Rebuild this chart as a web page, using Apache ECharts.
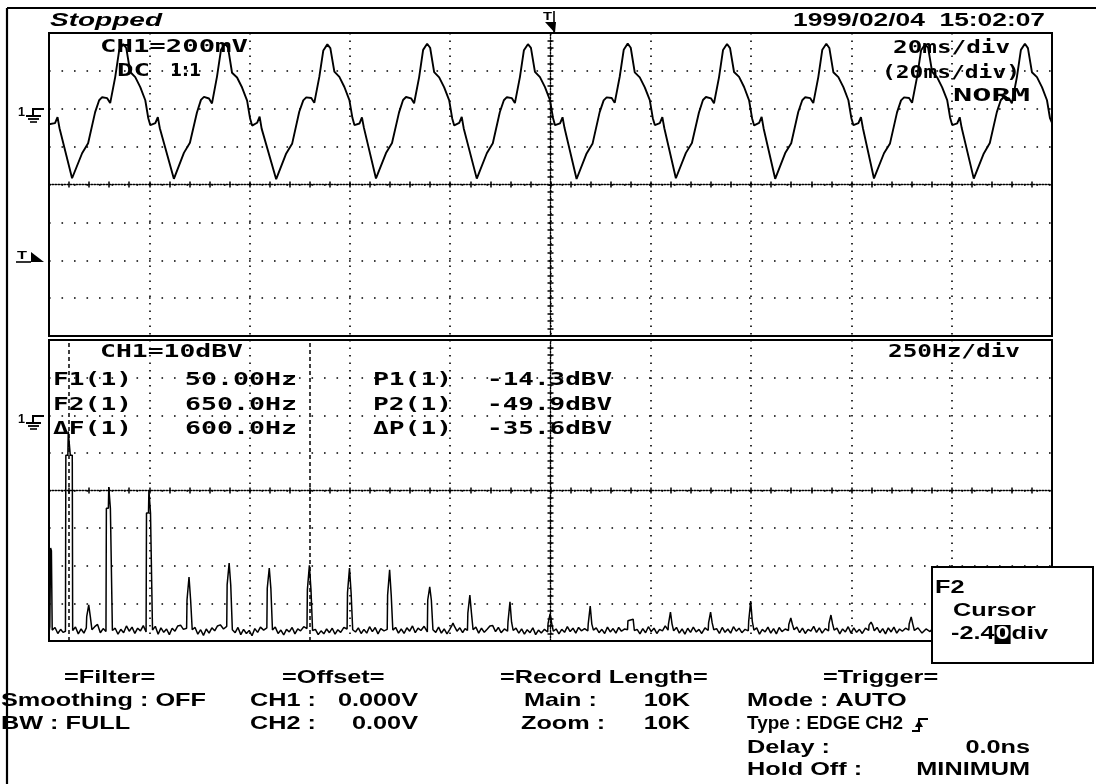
<!DOCTYPE html>
<html>
<head>
<meta charset="utf-8">
<script src="https://cdn.jsdelivr.net/npm/echarts@6/dist/echarts.min.js"></script>
<style>
  html, body { margin: 0; padding: 0; background: #fff; }
  #scope { width: 1096px; height: 784px; }
</style>
</head>
<body>
<div id="scope"></div>
<script>
// ---- CH1 time-domain trace: [time (ms), volts], 20 ms/div, 200 mV/div ----
const ch1TracePoints = [
  [0,-0.082],[1.2,-0.076],[1.7,-0.044],[2.1,-0.103],
  [4.6,-0.367],[6.6,-0.235],[7.8,-0.182],[9.2,-0.018],[10.0,0.045],[10.6,0.061],[11.6,0.056],[12.2,0.030],[13.2,0.167],[14.0,0.310],[14.8,0.342],[15.4,0.321],[16.2,0.194],[17.2,0.167],[18.2,0.114],[19.2,0.045],[19.8,-0.050],[20.2,-0.087],[21.2,-0.076],[21.7,-0.044],[22.1,-0.103],
  [24.9,-0.370],[26.9,-0.233],[28.1,-0.180],[29.5,-0.020],[30.3,0.047],[30.9,0.063],[31.9,0.054],[32.5,0.028],[33.5,0.170],[34.3,0.312],[35.1,0.345],[35.7,0.323],[36.5,0.190],[37.5,0.165],[38.5,0.112],[39.5,0.043],[40.1,-0.052],[40.5,-0.089],[41.5,-0.074],[42.0,-0.042],[42.4,-0.105],
  [45.3,-0.372],[47.3,-0.236],[48.5,-0.183],[49.9,-0.016],[50.7,0.044],[51.3,0.060],[52.3,0.057],[52.9,0.031],[53.9,0.168],[54.7,0.308],[55.5,0.340],[56.1,0.320],[56.9,0.196],[57.9,0.168],[58.9,0.115],[59.9,0.046],[60.5,-0.048],[60.9,-0.086],[61.9,-0.078],[62.4,-0.046],[62.8,-0.101],
  [65.2,-0.368],[67.2,-0.234],[68.4,-0.181],[69.8,-0.019],[70.6,0.046],[71.2,0.062],[72.2,0.055],[72.8,0.029],[73.8,0.166],[74.6,0.311],[75.4,0.343],[76.0,0.322],[76.8,0.193],[77.8,0.166],[78.8,0.113],[79.8,0.044],[80.4,-0.051],[80.8,-0.088],[81.8,-0.075],[82.3,-0.043],[82.7,-0.104],
  [85.3,-0.369],[87.3,-0.235],[88.5,-0.182],[89.9,-0.017],[90.7,0.045],[91.3,0.061],[92.3,0.056],[92.9,0.030],[93.9,0.167],[94.7,0.309],[95.5,0.341],[96.1,0.321],[96.9,0.195],[97.9,0.167],[98.9,0.114],[99.9,0.045],[100.5,-0.049],[100.9,-0.087],[101.9,-0.077],[102.4,-0.045],[102.8,-0.102],
  [105.2,-0.371],[107.2,-0.236],[108.4,-0.183],[109.8,-0.018],[110.6,0.044],[111.2,0.060],[112.2,0.057],[112.8,0.031],[113.8,0.169],[114.6,0.311],[115.4,0.344],[116.0,0.322],[116.8,0.192],[117.8,0.166],[118.8,0.113],[119.8,0.046],[120.4,-0.050],[120.8,-0.086],[121.8,-0.076],[122.3,-0.044],[122.7,-0.103],
  [125.0,-0.367],[127.0,-0.233],[128.2,-0.181],[129.6,-0.020],[130.4,0.046],[131.0,0.062],[132.0,0.055],[132.6,0.029],[133.6,0.166],[134.4,0.310],[135.2,0.342],[135.8,0.320],[136.6,0.194],[137.6,0.168],[138.6,0.115],[139.6,0.044],[140.2,-0.051],[140.6,-0.088],[141.6,-0.075],[142.1,-0.043],[142.5,-0.104],
  [144.8,-0.370],[146.8,-0.234],[148.0,-0.182],[149.4,-0.017],[150.2,0.045],[150.8,0.061],[151.8,0.056],[152.4,0.030],[153.4,0.167],[154.2,0.312],[155.0,0.343],[155.6,0.321],[156.4,0.193],[157.4,0.167],[158.4,0.114],[159.4,0.045],[160.0,-0.050],[160.4,-0.087],[161.4,-0.076],[161.9,-0.044],[162.3,-0.103],
  [164.5,-0.368],[166.5,-0.235],[167.7,-0.183],[169.1,-0.019],[169.9,0.044],[170.5,0.060],[171.5,0.057],[172.1,0.031],[173.1,0.168],[173.9,0.309],[174.7,0.341],[175.3,0.322],[176.1,0.195],[177.1,0.166],[178.1,0.113],[179.1,0.046],[179.7,-0.049],[180.1,-0.086],[181.1,-0.077],[181.6,-0.045],[182.0,-0.102],
  [184.4,-0.369],[186.4,-0.236],[187.6,-0.181],[189.0,-0.018],[189.8,0.046],[190.4,0.062],[191.4,0.055],[192.0,0.029],[193.0,0.167],[193.8,0.311],[194.6,0.343],[195.2,0.320],[196.0,0.193],[197.0,0.167],[198.0,0.114],[199.0,0.045],[199.6,-0.050],[200.0,-0.075]
];

// ---- CH1 FFT: [frequency (Hz), level (dBV)], 250 Hz/div, 10 dB/div ----
const ch1SpectrumPoints = [
  [0,-67.8],[2,-66.2],[4,-45.3],[6,-46.0],[8,-67.1],[15,-66.4],[22,-68.0],[29,-66.9],[35,-67.7],
  [41,-67.4],[42,-20.6],[47,-20.6],[48,-14.3],[52,-14.3],[53,-20.6],[58,-20.6],[59,-67.2],
  [66,-66.3],[73,-68.1],[80,-66.8],[87,-67.9],
  [93,-66.5],[94,-63.5],[98,-63.5],[99,-60.4],[102,-60.4],[103,-63.5],[106,-63.5],[107,-67.0],
  [114,-66.2],[121,-65.6],[128,-67.8],[135,-66.7],
  [142,-67.5],[143,-34.7],[148,-34.7],[149,-29.1],[152,-29.1],[153,-34.7],[157,-34.7],[158,-67.2],
  [165,-66.6],[172,-68.2],[179,-66.9],[186,-67.8],[193,-66.0],[200,-67.4],[207,-66.3],[214,-68.0],[221,-66.6],[228,-67.3],[235,-65.9],
  [242,-67.6],[243,-36.0],[248,-36.0],[249,-29.9],[252,-29.9],[253,-36.0],[257,-36.0],[258,-67.1],
  [265,-66.1],[272,-68.2],[279,-66.5],[286,-67.7],[293,-66.8],[300,-68.3],[307,-66.6],[314,-67.4],[321,-66.0],[328,-65.8],[335,-66.9],
  [343,-66.6],[344,-59.1],[348,-59.1],[349,-53.0],[352,-53.0],[353,-59.1],[356,-59.1],[357,-67.0],
  [364,-66.4],[371,-68.2],[378,-67.0],[385,-68.5],[392,-66.8],[399,-67.9],[406,-66.5],[413,-67.3],[420,-66.0],[427,-65.7],[435,-66.8],
  [443,-66.1],[444,-55.1],[448,-55.1],[449,-49.3],[452,-49.3],[453,-55.1],[456,-55.1],[457,-67.0],
  [464,-67.8],[471,-66.4],[478,-68.3],[485,-66.9],[492,-68.0],[499,-67.2],[506,-68.6],[513,-66.7],[520,-67.7],[527,-66.3],[535,-67.1],
  [543,-66.5],[544,-56.0],[548,-56.0],[549,-50.6],[552,-50.6],[553,-56.0],[556,-56.0],[557,-67.1],
  [564,-66.3],[571,-68.0],[578,-67.1],[585,-68.4],[592,-66.9],[599,-67.6],[606,-66.4],[613,-68.1],[620,-66.8],[627,-67.3],[635,-66.2],
  [643,-66.7],[644,-56.4],[648,-56.4],[649,-49.9],[652,-49.9],[653,-56.4],[656,-56.4],[657,-67.2],
  [664,-66.9],[671,-68.3],[678,-67.3],[685,-68.1],[692,-66.8],[699,-67.8],[706,-66.6],[713,-68.2],[720,-67.0],[727,-67.7],[735,-66.4],
  [743,-66.8],[744,-57.2],[748,-57.2],[749,-50.6],[752,-50.6],[753,-57.2],[756,-57.2],[757,-67.0],
  [764,-67.6],[771,-66.5],[778,-68.0],[785,-66.9],[792,-67.9],[799,-66.2],[806,-67.5],[813,-66.4],[820,-68.1],[827,-66.7],[835,-67.3],
  [843,-66.9],[844,-57.8],[848,-57.8],[849,-51.1],[852,-51.1],[853,-57.8],[856,-57.8],[857,-67.1],
  [864,-66.4],[871,-67.9],[878,-66.8],[885,-68.0],[892,-66.5],[899,-67.4],[906,-66.0],[913,-67.8],[920,-66.6],[927,-67.2],[935,-66.1],
  [943,-67.6],[944,-59.1],[948,-59.1],[949,-55.6],[952,-55.6],[953,-59.1],[956,-59.1],[957,-67.0],
  [964,-67.7],[971,-66.3],[978,-67.9],[985,-66.8],[992,-68.1],[999,-66.9],[1004,-65.9],[1007,-65.2],[1010,-66.0],[1017,-67.4],[1024,-66.5],[1031,-67.8],[1037,-66.7],
  [1043,-67.2],[1044,-62.6],[1048,-62.6],[1049,-57.8],[1052,-57.8],[1053,-62.6],[1056,-62.6],[1057,-67.0],
  [1064,-66.3],[1071,-67.9],[1078,-66.6],[1085,-67.7],[1092,-66.9],[1099,-66.0],[1106,-65.9],[1113,-67.5],[1120,-66.4],[1127,-67.8],[1135,-66.8],
  [1143,-67.4],[1144,-65.0],[1148,-65.0],[1149,-59.6],[1152,-59.6],[1153,-65.0],[1156,-65.0],[1157,-67.2],
  [1164,-66.6],[1171,-67.9],[1178,-66.8],[1185,-68.2],[1192,-67.0],[1199,-67.8],[1206,-66.5],[1213,-68.3],[1220,-67.1],[1227,-67.9],[1235,-66.9],
  [1243,-67.6],[1244,-65.3],[1248,-65.3],[1249,-62.8],[1252,-62.8],[1253,-65.3],[1256,-65.3],[1257,-67.4],
  [1264,-66.8],[1271,-68.1],[1278,-66.9],[1285,-67.7],[1292,-66.2],[1299,-67.5],[1306,-66.6],[1313,-67.9],[1320,-66.4],[1327,-67.3],[1335,-66.7],
  [1343,-67.3],[1344,-65.5],[1348,-65.5],[1349,-60.7],[1352,-60.7],[1353,-65.5],[1356,-65.5],[1357,-67.1],
  [1364,-66.5],[1371,-67.8],[1378,-66.9],[1385,-68.0],[1392,-66.3],[1399,-67.6],[1406,-66.7],[1413,-67.9],[1420,-66.4],[1427,-67.4],[1435,-66.8],
  [1442,-67.0],[1443,-64.6],[1446,-64.2],[1456,-64.2],[1458,-64.6],[1459,-67.2],
  [1466,-66.9],[1473,-68.1],[1480,-66.7],[1487,-67.8],[1494,-66.2],[1501,-67.5],[1508,-66.6],[1515,-68.0],[1522,-66.9],[1529,-67.3],[1536,-66.0],
  [1543,-67.1],[1544,-65.5],[1548,-65.5],[1549,-62.3],[1552,-62.3],[1553,-65.5],[1556,-65.5],[1557,-67.3],
  [1564,-66.4],[1571,-67.9],[1578,-66.8],[1585,-68.2],[1592,-66.6],[1599,-67.7],[1606,-66.3],[1613,-67.6],[1620,-66.9],[1627,-68.0],[1635,-66.5],
  [1643,-67.2],[1644,-65.2],[1648,-65.2],[1649,-62.3],[1652,-62.3],[1653,-65.2],[1656,-65.2],[1657,-67.0],
  [1664,-66.7],[1671,-68.0],[1678,-66.4],[1685,-67.7],[1692,-66.8],[1699,-67.9],[1706,-66.2],[1713,-67.4],[1720,-66.6],[1727,-67.8],[1735,-66.9],
  [1743,-67.3],[1744,-64.8],[1748,-64.8],[1749,-59.4],[1752,-59.4],[1753,-64.8],[1756,-64.8],[1757,-67.1],
  [1764,-66.5],[1771,-68.2],[1778,-66.9],[1785,-67.6],[1792,-66.3],[1799,-67.9],[1806,-66.7],[1813,-68.1],[1820,-66.4],[1827,-67.5],[1835,-66.8],
  [1843,-67.2],[1844,-65.6],[1848,-65.6],[1849,-63.9],[1852,-63.9],[1853,-65.6],[1856,-65.6],[1857,-67.0],
  [1864,-66.3],[1871,-67.8],[1878,-66.6],[1885,-68.0],[1892,-66.9],[1899,-67.4],[1906,-66.1],[1913,-67.7],[1920,-66.5],[1927,-67.9],[1935,-66.7],
  [1943,-67.3],[1944,-65.4],[1948,-65.4],[1949,-63.1],[1952,-63.1],[1953,-65.4],[1956,-65.4],[1957,-67.1],
  [1964,-66.6],[1971,-68.1],[1978,-66.8],[1985,-67.6],[1992,-66.2],[1999,-67.9],[2006,-66.5],[2013,-67.7],[2020,-66.9],[2027,-68.0],[2035,-66.6],
  [2043,-67.2],[2044,-65.8],[2048,-65.8],[2049,-65.0],[2052,-65.0],[2053,-65.8],[2056,-65.8],[2057,-67.3],
  [2064,-66.4],[2071,-67.8],[2078,-66.7],[2085,-68.1],[2092,-66.5],[2099,-67.6],[2106,-66.3],[2113,-67.9],[2120,-66.8],[2127,-67.4],[2135,-66.6],
  [2143,-67.1],[2144,-65.5],[2148,-65.5],[2149,-63.6],[2152,-63.6],[2153,-65.5],[2156,-65.5],[2157,-67.2],
  [2166,-66.5],[2176,-67.9],[2186,-66.8],[2196,-67.5],[2206,-66.3],[2216,-67.8],[2226,-66.9],[2236,-67.4],[2246,-66.6],[2256,-67.9],[2266,-66.7],[2276,-67.3],[2286,-66.2],[2296,-67.6],[2316,-66.8],[2336,-67.7],[2356,-66.5],[2376,-67.9],[2396,-66.9],[2416,-67.4],[2436,-66.6],[2456,-67.8],[2476,-66.9],[2500,-67.5]
];

// Cursor positions (Hz) and their readouts
const cursorHz = [50, 650];
const cursorReadout = [
  ['F1(1)', '50.00Hz', 'P1(1)', '-14.3dBV'],
  ['F2(1)', '650.0Hz', 'P2(1)', '-49.9dBV'],
  ['ΔF(1)', '600.0Hz', 'ΔP(1)', '-35.6dBV']
];

// Axis ranges (divisions: 10 horizontal, 8 vertical)
const timeRangeMs = [0, 200];
const voltRange = [-1.2, 0.4];
const freqRangeHz = [0, 2500];
const dbvRange = [-70, 10];

// ---------------------------------------------------------------
const BLACK = '#000';
const PANEL = { left: 49, width: 1003, topY: 33, topH: 303, botY: 340, botH: 301 };

const measureCtx = document.createElement('canvas').getContext('2d');
function textWidth(str, font) { measureCtx.font = font; return measureCtx.measureText(str).width || 1; }
function textEl(str, x, yc, font, sx, fill) {
  return {
    type: 'text', x: x, y: yc, scaleX: sx, scaleY: 1, z: 100,
    style: { text: str, font: font, fill: fill || BLACK,
             align: 'left', verticalAlign: 'middle', textAlign: 'left', textVerticalAlign: 'middle' }
  };
}
// Text stretched horizontally so it spans [x0, x1]
function fitText(str, x0, x1, yc, font, fill) {
  return textEl(str, x0, yc, font, (x1 - x0) / textWidth(str, font), fill);
}
// Text with a fixed horizontal stretch, anchored left or right
function wideText(str, x, yc, font, sx, anchor, fill) {
  const w = textWidth(str, font) * sx;
  return textEl(str, anchor === 'right' ? x - w : x, yc, font, sx, fill);
}
function seg(x1, y1, x2, y2, w) {
  return { type: 'line', z: 100, shape: { x1, y1, x2, y2 }, style: { stroke: BLACK, lineWidth: w || 2 } };
}
function poly(points, filled) {
  return filled
    ? { type: 'polygon', z: 100, shape: { points }, style: { fill: BLACK } }
    : { type: 'polyline', z: 100, shape: { points }, style: { stroke: BLACK, lineWidth: 2, fill: null } };
}
function groundMark(yTop) {
  return [
    fitText('1', 18, 25, yTop + 3, 'bold 13px "Liberation Sans"'),
    poly([[44, yTop], [33, yTop], [33, yTop + 7]]),
    seg(26, yTop + 7, 41, yTop + 7, 2),
    seg(28, yTop + 10, 39, yTop + 10, 1.8),
    seg(30, yTop + 13, 37, yTop + 13, 1.6)
  ];
}

// ---- axes ----
const dotV = [1.6, 5.9];    // vertical grid lines
const dotH = [1.6, 10.9];   // horizontal grid lines
const hidden = { show: false };

function mainXAxis(grid, range, interval) {
  return { type: 'value', gridIndex: grid, min: range[0], max: range[1], interval,
    axisLine: { show: false, onZero: false }, axisTick: hidden, axisLabel: hidden,
    splitLine: { show: true, lineStyle: { color: BLACK, width: 1.6, type: dotV } } };
}
function mainYAxis(grid, range, interval) {
  return { type: 'value', gridIndex: grid, min: range[0], max: range[1], interval,
    axisLine: { show: false, onZero: false }, axisTick: hidden, axisLabel: hidden,
    splitLine: { show: true, lineStyle: { color: BLACK, width: 1.6, type: dotH } } };
}
// Centre graticule line with fine division ticks on both sides
function centreX(grid, range, interval, halfH, withLine, inside) {
  return { type: 'value', gridIndex: grid, min: range[0], max: range[1], interval,
    position: 'bottom', offset: -halfH,
    axisLine: { show: withLine, onZero: false, lineStyle: { color: BLACK, width: 1.4, type: [1.5, 1.5] } },
    axisTick: { show: true, inside, length: 3, lineStyle: { color: BLACK, width: 1.5 } },
    axisLabel: hidden, splitLine: hidden };
}
function centreY(grid, range, interval, halfW, withLine, inside) {
  return { type: 'value', gridIndex: grid, min: range[0], max: range[1], interval,
    position: 'left', offset: -halfW,
    axisLine: { show: withLine, onZero: false, lineStyle: { color: BLACK, width: 1.4, type: [1.5, 1.5] } },
    axisTick: { show: true, inside, length: 3, lineStyle: { color: BLACK, width: 1.5 } },
    axisLabel: hidden, splitLine: hidden };
}

const halfW = PANEL.width / 2;
const xAxes = [
  mainXAxis(0, timeRangeMs, 20),
  centreX(0, timeRangeMs, 4, PANEL.topH / 2, true, true),
  centreX(0, timeRangeMs, 4, PANEL.topH / 2, false, false),
  mainXAxis(1, freqRangeHz, 250),
  centreX(1, freqRangeHz, 50, PANEL.botH / 2, true, true),
  centreX(1, freqRangeHz, 50, PANEL.botH / 2, false, false)
];
const yAxes = [
  mainYAxis(0, voltRange, 0.2),
  centreY(0, voltRange, 0.04, halfW, true, true),
  centreY(0, voltRange, 0.04, halfW, false, false),
  mainYAxis(1, dbvRange, 10),
  centreY(1, dbvRange, 2, halfW, true, true),
  centreY(1, dbvRange, 2, halfW, false, false)
];

// ---- annotations ----
const PF = 'bold 18px "DejaVu Sans Mono"';
const PFP = 'bold 18px "DejaVu Sans"';
const IF = 'bold 19px "Liberation Sans"';
const IS = 1.33;   // horizontal stretch of the settings font
const gfx = [];

// outer frame
gfx.push(seg(7, 8, 1096, 8, 2.2), seg(7, 8, 7, 784, 2.2));

// status line
gfx.push(fitText('Stopped', 50, 162, 21, 'italic bold 18px "Liberation Sans"'));
gfx.push(fitText('1999/02/04  15:02:07', 793, 1045, 21, 'bold 18px "Liberation Sans"'));
// trigger position marker
gfx.push(fitText('T', 543, 552, 17, 'bold 11px "Liberation Sans"'));
gfx.push(seg(554, 11, 554, 32, 1.6));
gfx.push(poly([[545, 22], [556, 22], [555, 33]], true));

// left-hand level markers
gfx.push(...groundMark(109));
gfx.push(...groundMark(416));
gfx.push(fitText('T', 17, 27, 256, 'bold 11px "Liberation Sans"'));
gfx.push(seg(16, 262, 31, 262, 1.6));
gfx.push(poly([[31, 252], [44, 262], [31, 262]], true));

// time-domain readouts
gfx.push(fitText('CH1=200mV', 100, 248, 47, PF));
gfx.push(fitText('DC', 117, 150, 71, PF));
gfx.push(fitText('1:1', 170, 201, 71, PFP));
gfx.push(fitText('20ms/div', 893, 1010, 48, PF));
gfx.push(fitText('(20ms/div)', 882, 1020, 73, PF));
gfx.push(fitText('NORM', 953, 1030, 96, PF));

// spectrum readouts
gfx.push(fitText('CH1=10dBV', 100, 243, 352, PF));
gfx.push(fitText('250Hz/div', 888, 1020, 352, PF));
const rowY = [380, 405, 429];
cursorReadout.forEach((r, i) => {
  gfx.push(fitText(r[0], 53, 132, rowY[i], PF));
  gfx.push(fitText(r[1], 185, 297, rowY[i], PF));
  gfx.push(fitText(r[2], 373, 452, rowY[i], PF));
  gfx.push(fitText(r[3], 487, 612, rowY[i], PF));
});

// F2 cursor box
gfx.push({ type: 'rect', z: 99, shape: { x: 932, y: 567, width: 161, height: 96 },
           style: { fill: '#fff', stroke: BLACK, lineWidth: 2 } });
gfx.push(wideText('F2', 935, 588, IF, IS));
gfx.push(wideText('Cursor', 953, 611, IF, IS));
gfx.push(wideText('-2.4', 951, 634, IF, IS));
const zeroX = 951 + textWidth('-2.4', IF) * IS + 1;
const zeroW = textWidth('0', IF) * IS;
gfx.push({ type: 'rect', z: 100, shape: { x: zeroX - 1, y: 625, width: zeroW + 2, height: 19 }, style: { fill: BLACK } });
gfx.push(wideText('0', zeroX, 634, IF, IS, 'left', '#fff'));
gfx.push(wideText('div', zeroX + zeroW + 2, 634, IF, IS));

// setup summary
const infoY = [678, 701, 724, 748, 770];
gfx.push(wideText('=Filter=', 64, infoY[0], IF, IS));
gfx.push(wideText('=Offset=', 282, infoY[0], IF, IS));
gfx.push(wideText('=Record Length=', 500, infoY[0], IF, IS));
gfx.push(wideText('=Trigger=', 823, infoY[0], IF, IS));
gfx.push(wideText('Smoothing : OFF', 1, infoY[1], IF, IS));
gfx.push(wideText('CH1 :', 250, infoY[1], IF, IS));
gfx.push(wideText('0.000V', 418, infoY[1], IF, IS, 'right'));
gfx.push(wideText('Main :', 524, infoY[1], IF, IS));
gfx.push(wideText('10K', 690, infoY[1], IF, IS, 'right'));
gfx.push(wideText('Mode : AUTO', 747, infoY[1], IF, IS));
gfx.push(wideText('BW : FULL', 1, infoY[2], IF, IS));
gfx.push(wideText('CH2 :', 250, infoY[2], IF, IS));
gfx.push(wideText('0.00V', 418, infoY[2], IF, IS, 'right'));
gfx.push(wideText('Zoom :', 521, infoY[2], IF, IS));
gfx.push(wideText('10K', 690, infoY[2], IF, IS, 'right'));
gfx.push(fitText('Type : EDGE CH2', 747, 903, infoY[2], IF));
// rising-edge trigger slope symbol
gfx.push(poly([[912, 731], [919, 731], [919, 719], [928, 719]]));
gfx.push(poly([[915, 727], [923, 727], [919, 720]], true));
gfx.push(wideText('Delay :', 747, infoY[3], IF, IS));
gfx.push(wideText('0.0ns', 1030, infoY[3], IF, IS, 'right'));
gfx.push(wideText('Hold Off :', 747, infoY[4], IF, IS));
gfx.push(wideText('MINIMUM', 1030, infoY[4], IF, IS, 'right'));

const chart = echarts.init(document.getElementById('scope'), null, { renderer: 'canvas' });
chart.setOption({
  animation: false,
  backgroundColor: '#fff',
  grid: [
    { left: PANEL.left, top: PANEL.topY, width: PANEL.width, height: PANEL.topH,
      show: true, borderColor: BLACK, borderWidth: 2, backgroundColor: 'transparent' },
    { left: PANEL.left, top: PANEL.botY, width: PANEL.width, height: PANEL.botH,
      show: true, borderColor: BLACK, borderWidth: 2, backgroundColor: 'transparent' }
  ],
  xAxis: xAxes,
  yAxis: yAxes,
  series: [
    { name: 'CH1', type: 'line', xAxisIndex: 0, yAxisIndex: 0, data: ch1TracePoints,
      showSymbol: false, symbol: 'none', z: 5,
      lineStyle: { color: BLACK, width: 1.9 } },
    { name: 'CH1 FFT', type: 'line', xAxisIndex: 3, yAxisIndex: 3, data: ch1SpectrumPoints,
      showSymbol: false, symbol: 'none', z: 5,
      lineStyle: { color: BLACK, width: 1.5 },
      markLine: { silent: true, symbol: 'none', label: { show: false },
        lineStyle: { color: BLACK, width: 1.5, type: [4, 3] },
        data: cursorHz.map(f => ({ xAxis: f })) } }
  ],
  graphic: { elements: gfx }
});
</script>
</body>
</html>
